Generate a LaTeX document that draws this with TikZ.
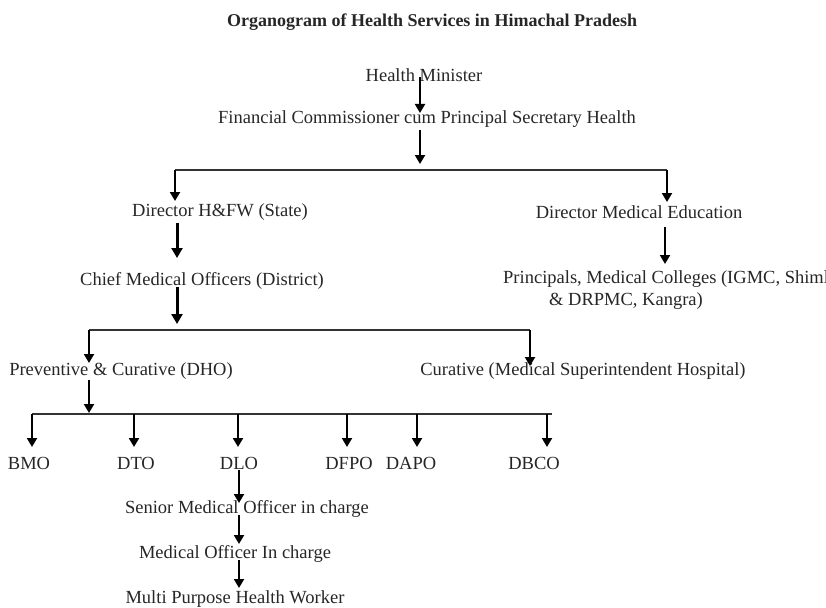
\documentclass[tikz,border=0pt]{standalone}
\usepackage{fontspec}
\setmainfont{Liberation Serif}
\usetikzlibrary{arrows.meta}
\begin{document}
\begin{tikzpicture}[x=1pt,y=-1pt,
  lbl/.style={inner sep=0pt,font=\fontsize{18.5}{22}\selectfont,text=black!85},
  arr/.style={line width=2pt,-{Triangle[width=10pt,length=9pt]}},
  arrthick/.style={line width=3pt,-{Triangle[width=11pt,length=10pt]}},
  bar/.style={line width=1.3pt,black!80}]
\useasboundingbox (0,0) rectangle (826,607);
% titles and labels
\node[lbl,font=\fontsize{18}{21}\selectfont\bfseries] (title) at (432,22) {Organogram of Health Services in Himachal Pradesh};
\node[lbl] (hm) at (424,75) {Health Minister};
\node[lbl] (fc) at (427,119) {Financial Commissioner cum Principal Secretary Health};
\node[lbl] (dhfw) at (220,212) {Director H\&FW (State)};
\node[lbl] (dme) at (639,212) {Director Medical Education};
\node[lbl] (cmo) at (202,281) {Chief Medical Officers (District)};
\node[lbl,anchor=west,align=left] (princ) at (503,290) {Principals, Medical Colleges (IGMC, Shimla\\\hspace*{46pt}\& DRPMC, Kangra)};
\node[lbl] (pc) at (121,371) {Preventive \& Curative (DHO)};
\node[lbl] (cur) at (583,371) {Curative (Medical Superintendent Hospital)};
\node[lbl] (bmo) at (29,463) {BMO};
\node[lbl] (dto) at (136,463) {DTO};
\node[lbl] (dlo) at (239,463) {DLO};
\node[lbl] (dfpo) at (349,463) {DFPO};
\node[lbl] (dapo) at (411,463) {DAPO};
\node[lbl] (dbco) at (534,463) {DBCO};
\node[lbl] (smo) at (247,509) {Senior Medical Officer in charge};
\node[lbl] (moi) at (235,554) {Medical Officer In charge};
\node[lbl] (mphw) at (235,599) {Multi Purpose Health Worker};
% junction coordinates
\coordinate (hmS) at (420,77);
\coordinate (fcN) at (420,113);
\coordinate (fcS) at (420,130);
\coordinate (j1) at (420,164);
\coordinate (b1L) at (175,170);
\coordinate (b1R) at (667,170);
\coordinate (dhfwN) at (175,201);
\coordinate (dmeN) at (667,202);
\coordinate (dhfwS) at (177,223);
\coordinate (cmoN) at (177,258);
\coordinate (cmoS) at (177,287);
\coordinate (j2) at (177,324);
\coordinate (dmeS) at (665,227);
\coordinate (princN) at (665,264);
\coordinate (b2L) at (89,330);
\coordinate (b2R) at (530,330);
\coordinate (pcN) at (89,363);
\coordinate (curN) at (530,366);
\coordinate (pcS) at (89,380);
\coordinate (j3) at (89,413);
\coordinate (b3L) at (32,414);
\coordinate (b3R) at (552,414);
\coordinate (dloS) at (239,470);
\coordinate (smoN) at (239,503);
\coordinate (smoS) at (239,515);
\coordinate (moiN) at (239,544);
\coordinate (moiS) at (239,560);
\coordinate (mphwN) at (239,588);
% connectors
\draw[arr] (hmS) -- (fcN);
\draw[arr] (fcS) -- (j1);
\draw[bar] (b1L) -- (b1R);
\draw[arr] (b1L) -- (dhfwN);
\draw[arr] (b1R) -- (dmeN);
\draw[arrthick] (dhfwS) -- (cmoN);
\draw[arrthick] (cmoS) -- (j2);
\draw[arr] (dmeS) -- (princN);
\draw[bar] (b2L) -- (b2R);
\draw[arr] (b2L) -- (pcN);
\draw[arr] (b2R) -- (curN);
\draw[arr] (pcS) -- (j3);
\draw[bar] (b3L) -- (b3R);
\foreach \n/\x in {bmo/32,dto/134,dlo/238,dfpo/347,dapo/417,dbco/547}{
  \coordinate (t\n) at (\x,414);
  \draw[arr] (t\n) -- (\x,447);
}
\draw[arr] (dloS) -- (smoN);
\draw[arr] (smoS) -- (moiN);
\draw[arr] (moiS) -- (mphwN);
\end{tikzpicture}
\end{document}
